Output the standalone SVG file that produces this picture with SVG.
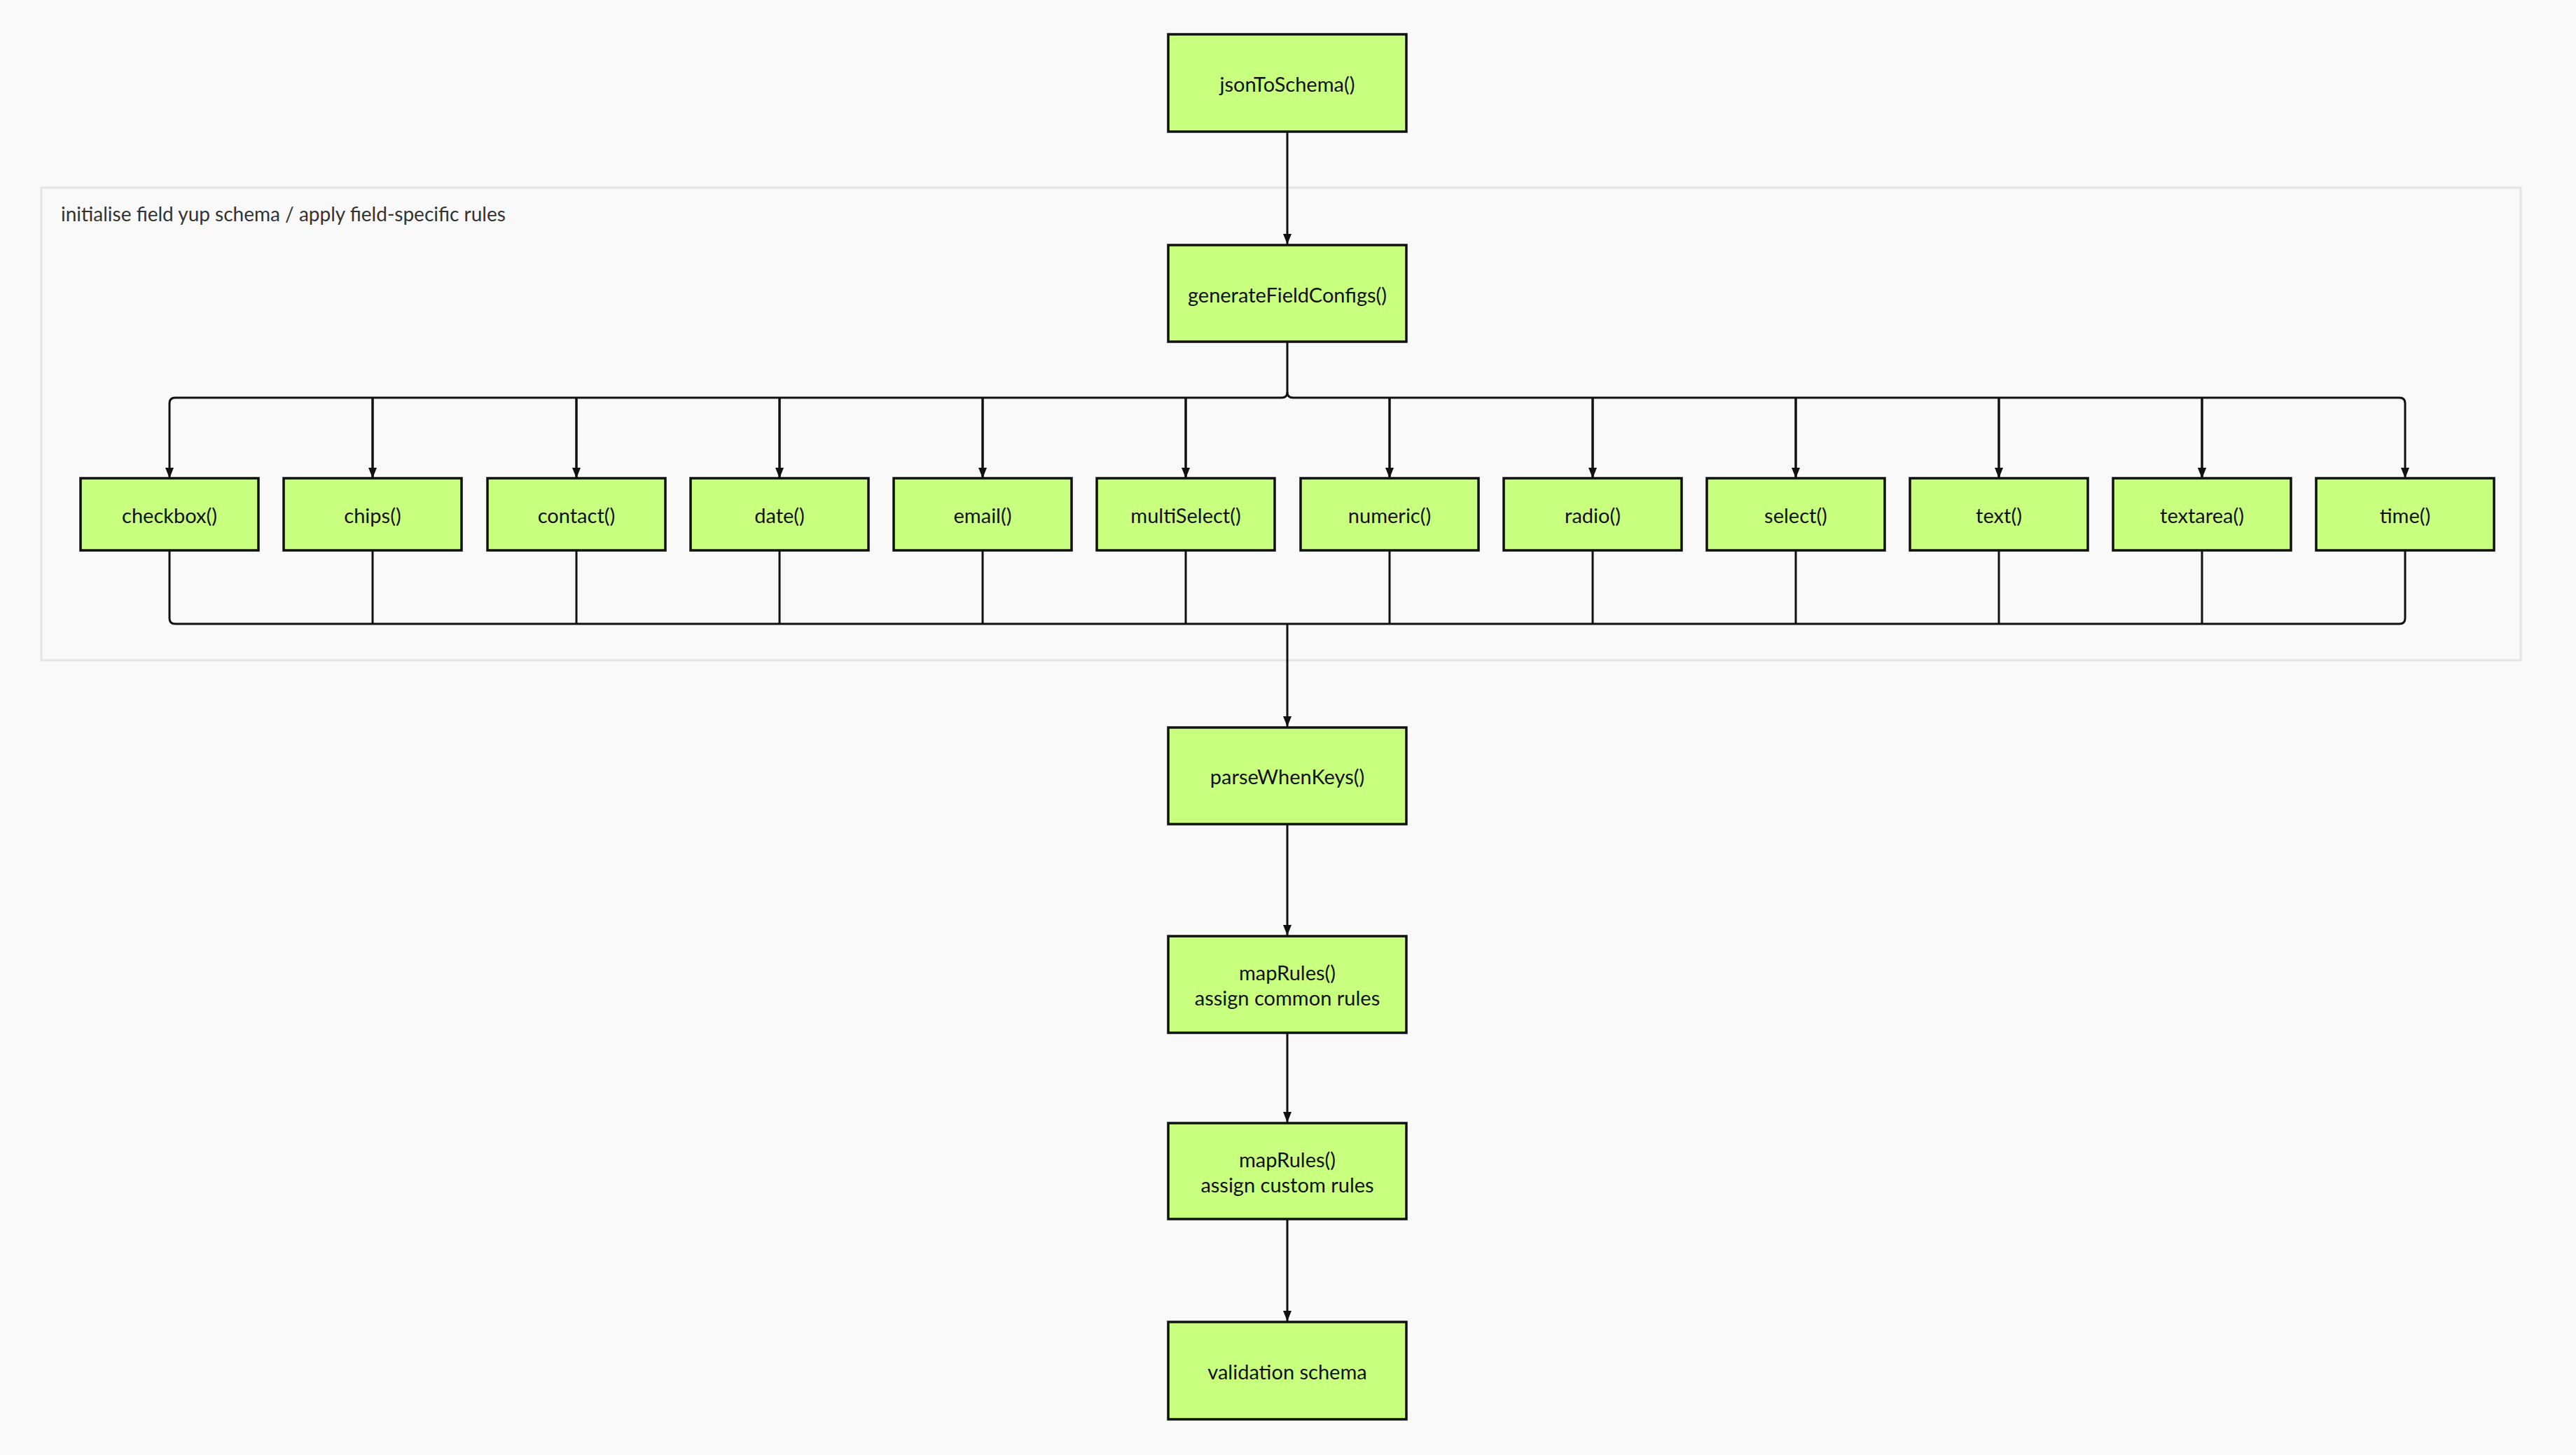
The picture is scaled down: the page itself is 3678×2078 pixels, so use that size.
<svg xmlns="http://www.w3.org/2000/svg" width="3678" height="2078" viewBox="0 0 3678 2078">
<style>
.n rect{fill:#c9ff7e;stroke:#111;stroke-width:3.5}
.n text{font-family:Lato,"Liberation Sans",sans-serif;font-size:29px;fill:#111;text-anchor:middle;dominant-baseline:central}
.c path{fill:none;stroke:#111;stroke-width:3}
</style>
<defs><marker id="a" viewBox="0 0 10 10" refX="10" refY="5" markerWidth="5" markerHeight="5" markerUnits="strokeWidth" orient="auto"><path d="M0,1 L10,5 L0,9 z" fill="#111"/></marker></defs>
<rect width="3678" height="2078" fill="#f9f9f9"/>
<g id="group"><rect x="59" y="268" width="3540" height="675" fill="#f9f9f9" stroke="#e4e4e4" stroke-width="3"/>
<text x="87" y="305" font-family="Lato,'Liberation Sans',sans-serif" font-size="28" fill="#333" dominant-baseline="central">initialise field yup schema / apply field-specific rules</text></g>
<g class="c" id="connectors">
<path d="M1838,188 V349" marker-end="url(#a)"/>
<path d="M1838,488 V560 Q1838,568 1830,568 H250 Q242,568 242,576 V683" marker-end="url(#a)"/>
<path d="M1838,560 Q1838,568 1846,568 H3426 Q3434,568 3434,576 V683" marker-end="url(#a)"/>
<path d="M532,568 V683 M823,568 V683 M1113,568 V683 M1403,568 V683 M1693,568 V683 M1984,568 V683 M2274,568 V683 M2564,568 V683 M2854,568 V683 M3144,568 V683" marker-end="url(#a)"/>
<path d="M532,568 V683" marker-end="url(#a)"/><path d="M823,568 V683" marker-end="url(#a)"/><path d="M1113,568 V683" marker-end="url(#a)"/><path d="M1403,568 V683" marker-end="url(#a)"/><path d="M1693,568 V683" marker-end="url(#a)"/><path d="M1984,568 V683" marker-end="url(#a)"/><path d="M2274,568 V683" marker-end="url(#a)"/><path d="M2564,568 V683" marker-end="url(#a)"/><path d="M2854,568 V683" marker-end="url(#a)"/><path d="M3144,568 V683" marker-end="url(#a)"/>
<path d="M242,786 V883 Q242,891 250,891 H3426 Q3434,891 3434,883 V786"/>
<path d="M532,786 V891 M823,786 V891 M1113,786 V891 M1403,786 V891 M1693,786 V891 M1984,786 V891 M2274,786 V891 M2564,786 V891 M2854,786 V891 M3144,786 V891"/>
<path d="M1838,891 V1038" marker-end="url(#a)"/>
<path d="M1838,1177 V1336" marker-end="url(#a)"/>
<path d="M1838,1475 V1603" marker-end="url(#a)"/>
<path d="M1838,1741 V1887" marker-end="url(#a)"/>
</g>
<g class="n" id="jsonToSchema"><rect x="1668" y="49" width="340" height="139"/><text x="1838" y="119">jsonToSchema()</text></g>
<g class="n" id="generateFieldConfigs"><rect x="1668" y="350" width="340" height="138"/><text x="1838" y="420">generateFieldConfigs()</text></g>
<g class="n" id="checkbox"><rect x="115" y="683" width="254" height="103"/><text x="242" y="735">checkbox()</text></g>
<g class="n" id="chips"><rect x="405" y="683" width="254" height="103"/><text x="532" y="735">chips()</text></g>
<g class="n" id="contact"><rect x="696" y="683" width="254" height="103"/><text x="823" y="735">contact()</text></g>
<g class="n" id="date"><rect x="986" y="683" width="254" height="103"/><text x="1113" y="735">date()</text></g>
<g class="n" id="email"><rect x="1276" y="683" width="254" height="103"/><text x="1403" y="735">email()</text></g>
<g class="n" id="multiSelect"><rect x="1566" y="683" width="254" height="103"/><text x="1693" y="735">multiSelect()</text></g>
<g class="n" id="numeric"><rect x="1857" y="683" width="254" height="103"/><text x="1984" y="735">numeric()</text></g>
<g class="n" id="radio"><rect x="2147" y="683" width="254" height="103"/><text x="2274" y="735">radio()</text></g>
<g class="n" id="select"><rect x="2437" y="683" width="254" height="103"/><text x="2564" y="735">select()</text></g>
<g class="n" id="text"><rect x="2727" y="683" width="254" height="103"/><text x="2854" y="735">text()</text></g>
<g class="n" id="textarea"><rect x="3017" y="683" width="254" height="103"/><text x="3144" y="735">textarea()</text></g>
<g class="n" id="time"><rect x="3307" y="683" width="254" height="103"/><text x="3434" y="735">time()</text></g>
<g class="n" id="parseWhenKeys"><rect x="1668" y="1039" width="340" height="138"/><text x="1838" y="1108">parseWhenKeys()</text></g>
<g class="n" id="mapRulesCommon"><rect x="1668" y="1337" width="340" height="138"/><text x="1838" y="1388">mapRules()</text><text x="1838" y="1424">assign common rules</text></g>
<g class="n" id="mapRulesCustom"><rect x="1668" y="1604" width="340" height="137"/><text x="1838" y="1655">mapRules()</text><text x="1838" y="1691">assign custom rules</text></g>
<g class="n" id="validationSchema"><rect x="1668" y="1888" width="340" height="139"/><text x="1838" y="1958">validation schema</text></g>
</svg>
